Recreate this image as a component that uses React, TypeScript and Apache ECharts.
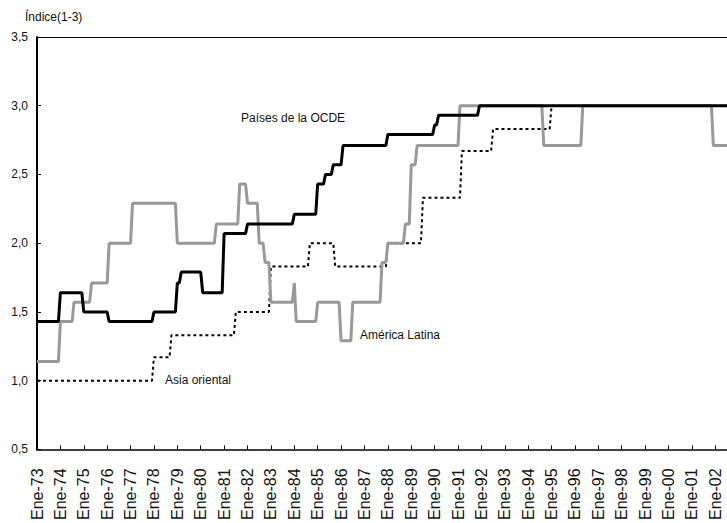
import React, { useEffect, useRef } from "react";
import * as echarts from "echarts";

// Month index counted from Ene-73 (0) ; each pair = [first month of the level, index value]
const ocdeSteps: [number, number][] = [
  [0, 1.43], [12, 1.64], [24, 1.5], [37, 1.43], [60, 1.5], [72, 1.71], [74, 1.79],
  [85, 1.64], [96, 2.07], [108, 2.14], [132, 2.21], [144, 2.43], [148, 2.5],
  [152, 2.57], [157, 2.71], [180, 2.79], [204, 2.86], [206, 2.93], [227, 3.0],
];

const latamSteps: [number, number][] = [
  [0, 1.14], [12, 1.43], [19, 1.57], [28, 1.71], [37, 2.0], [49, 2.29], [72, 2.0],
  [92, 2.14], [104, 2.43], [108, 2.29], [114, 2.0], [117, 1.86], [120, 1.57],
  [132, 1.71], [133, 1.43], [144, 1.57], [156, 1.29], [162, 1.57], [177, 1.86],
  [180, 2.0], [189, 2.14], [192, 2.57], [195, 2.71], [217, 3.0], [260, 2.71],
  [280, 3.0], [347, 2.71],
];

const asiaSteps: [number, number][] = [
  [0, 1.0], [60, 1.17], [69, 1.33], [102, 1.5], [120, 1.83], [140, 2.0], [153, 1.83],
  [180, 2.0], [198, 2.33], [218, 2.67], [234, 2.83], [264, 3.0],
];

const monthNames = ["Ene", "Feb", "Mar", "Abr", "May", "Jun", "Jul", "Ago", "Sep", "Oct", "Nov", "Dic"];
const firstYear = 1973;
const monthCount = 355; // Ene-73 .. Jul-02

const categories: string[] = [];
for (let i = 0; i < monthCount; i++) {
  const y = (firstYear + Math.floor(i / 12)) % 100;
  categories.push(monthNames[i % 12] + "-" + String(y).padStart(2, "0"));
}

function expand(steps: [number, number][], count: number): number[] {
  const out: number[] = [];
  let k = 0;
  for (let i = 0; i < count; i++) {
    while (k + 1 < steps.length && steps[k + 1][0] <= i) k++;
    out.push(steps[k][1]);
  }
  return out;
}

const FONT = '"Liberation Sans", Arial, Helvetica, sans-serif';

export default function App() {
  const ref = useRef<HTMLDivElement>(null);
  useEffect(() => {
    if (!ref.current) return;
    const chart = echarts.init(ref.current, null, { renderer: "svg" });
    chart.setOption({
      animation: false,
      backgroundColor: "#ffffff",
      textStyle: { fontFamily: FONT },
      grid: { left: 37, top: 37, right: 0, bottom: 71, containLabel: false },
      xAxis: [
        {
          type: "category",
          data: categories,
          boundaryGap: false,
          axisLine: { lineStyle: { color: "#000", width: 1.5 } },
          axisTick: { inside: true, interval: 11, length: 4, lineStyle: { color: "#000", width: 1 } },
          axisLabel: {
            interval: 11,
            rotate: 90,
            margin: 19,
            fontSize: 16,
            color: "#111",
            fontFamily: FONT,
          },
          splitLine: { show: false },
        },
        {
          type: "category",
          data: categories,
          boundaryGap: false,
          position: "top",
          axisLine: { lineStyle: { color: "#000", width: 1 } },
          axisTick: { show: false },
          axisLabel: { show: false },
          splitLine: { show: false },
        },
      ],
      yAxis: {
        type: "value",
        min: 0.5,
        max: 3.5,
        interval: 0.5,
        axisLine: { show: true, lineStyle: { color: "#000", width: 2 } },
        axisTick: { show: true, inside: true, length: 4, lineStyle: { color: "#000", width: 1 } },
        axisLabel: {
          margin: 9,
          fontSize: 12,
          color: "#111",
          fontFamily: FONT,
          formatter: (v: number) => v.toFixed(1).replace(".", ","),
        },
        splitLine: { show: false },
      },
      series: [
        {
          name: "Asia oriental",
          type: "line",
          data: expand(asiaSteps, monthCount),
          showSymbol: false,
          symbol: "none",
          lineStyle: { color: "#000", width: 2, type: [3, 3] },
          z: 2,
        },
        {
          name: "América Latina",
          type: "line",
          data: expand(latamSteps, monthCount),
          showSymbol: false,
          symbol: "none",
          lineStyle: { color: "#999999", width: 3 },
          z: 3,
        },
        {
          name: "Países de la OCDE",
          type: "line",
          data: expand(ocdeSteps, monthCount),
          showSymbol: false,
          symbol: "none",
          lineStyle: { color: "#000", width: 3 },
          z: 4,
        },
      ],
      graphic: [
        {
          type: "text",
          left: 25,
          top: 11,
          style: { text: "Índice(1-3)", fontSize: 12, fill: "#111", fontFamily: FONT },
        },
        {
          type: "text",
          left: 241,
          top: 112,
          style: { text: "Países de la OCDE", fontSize: 12, fill: "#111", fontFamily: FONT },
        },
        {
          type: "text",
          left: 360,
          top: 329,
          style: { text: "América Latina", fontSize: 12, fill: "#111", fontFamily: FONT },
        },
        {
          type: "text",
          left: 165,
          top: 374,
          style: { text: "Asia oriental", fontSize: 12, fill: "#111", fontFamily: FONT },
        },
      ],
    });
    return () => chart.dispose();
  }, []);
  return (
    <div
      ref={ref}
      style={{ position: "fixed", left: 0, top: 0, width: 727, height: 523, background: "#fff" }}
    />
  );
}
